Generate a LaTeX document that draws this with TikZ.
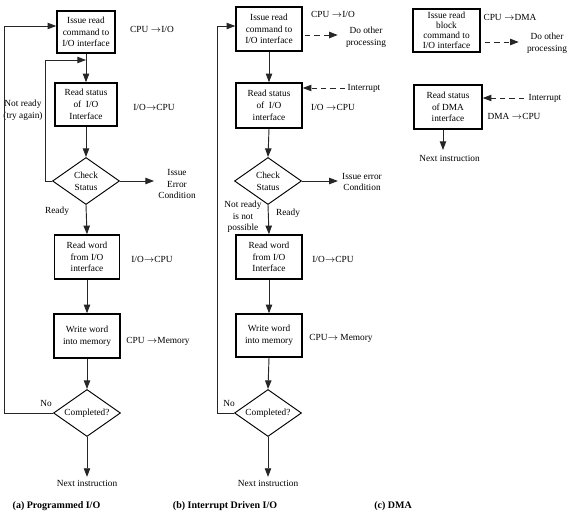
\documentclass[tikz,border=0pt]{standalone}
\usepackage{fontspec}
\setmainfont{Liberation Serif}
\usetikzlibrary{arrows.meta,shapes.geometric}
\begin{document}
\begin{tikzpicture}[x=0.75pt,y=-0.75pt,
  every node/.style={font=\fontsize{7}{8.8}\selectfont, inner sep=0pt},
  box/.style={draw, line width=1.1pt, align=center},
  dia/.style={draw, line width=0.7pt, shape=diamond, aspect=1.43, align=center, minimum width=50.25pt, minimum height=35.25pt},
  lbl/.style={align=center},
  captxt/.style={font=\bfseries\fontsize{7.5}{9}\selectfont},
  arr/.style={line width=0.7pt, draw=black!85, -{Triangle[length=6.5pt,width=4.8pt]}},
  darr/.style={line width=0.7pt, draw=black!85, dash pattern=on 4pt off 3pt, -{Triangle[length=6.5pt,width=4.8pt]}}]
\useasboundingbox (0,0) rectangle (569,514);

% ---------------- (a) Programmed I/O ----------------
\node[box, minimum width=43.5pt, minimum height=31.5pt] (a1) at (86,32) {Issue read\\command to\\I/O interface};
\node[box, minimum width=46.5pt, minimum height=32.25pt] (a2) at (86,104.5) {Read status\\of\enspace I/O\\Interface};
\node[dia] (a3) at (86,181) {Check\\Status};
\node[box, minimum width=48.75pt, minimum height=33pt] (a4) at (87,257) {Read word\\from I/O\\interface};
\node[box, minimum width=49.5pt, minimum height=33pt] (a5) at (87,336) {Write word\\into memory};
\node[dia] (a6) at (87,413) {Completed?};
\node (anext) at (87,483) {Next instruction};
\node[lbl] (aerr) at (177,184) {Issue\\Error\\Condition};
\node (al1) at (152,29) {CPU $\rightarrow$I/O};
\node (al2) at (154,107) {I/O$\rightarrow$CPU};
\node (al4) at (152,259) {I/O$\rightarrow$CPU};
\node (al5) at (158,341) {CPU $\rightarrow$Memory};
\node[lbl] (anr) at (23,110) {Not ready\\(try again)};
\node (ardy) at (57,211) {Ready};
\node (ano) at (46,403) {No};
\node[captxt] (acap) at (56.5,506) {(a) Programmed I/O};
\coordinate (la) at (4,26);
\coordinate (lb) at (45,60);

\draw[arr] (a1.south) -- (a2.north);
\draw[arr] (a2.south) -- (a3.north);
\draw[arr] (a3.south) -- (a4.north);
\draw[arr] (a4.south) -- (a5.north);
\draw[arr] (a5.south) -- (a6.north);
\draw[arr] (a6.south) -- ([yshift=2pt]anext.north);
\draw[arr] (a3.east) -- ([xshift=-3pt]a3.east -| aerr.west);
\draw[arr] (a3.west) -| (lb) -- (lb -| a1.south);
\draw[arr] (a6.west) -| (la) -- (la -| a1.west);

% ---------------- (b) Interrupt Driven I/O ----------------
\node[box, minimum width=49.5pt, minimum height=33pt] (b1) at (269,29) {Issue read\\command to\\I/O interface};
\node[box, minimum width=49.5pt, minimum height=33.75pt] (b2) at (269,105.5) {Read status\\of\enspace I/O\\interface};
\node[dia] (b3) at (268,181) {Check\\Status};
\node[box, minimum width=49.5pt, minimum height=33pt] (b4) at (269,257) {Read word\\from I/O\\Interface};
\node[box, minimum width=49.5pt, minimum height=32.25pt] (b5) at (269,335.5) {Write word\\into memory};
\node[dia] (b6) at (268,413) {Completed?};
\node (bnext) at (268,483) {Next instruction};
\node[lbl] (berr) at (362,182) {Issue error\\Condition};
\node[lbl] (bdo) at (366,37) {Do other\\processing};
\node (bint) at (364,88) {Interrupt};
\node (bl1) at (333,14) {CPU $\rightarrow$I/O};
\node (bl2) at (333,107) {I/O $\rightarrow$CPU};
\node (bl4) at (333,259) {I/O$\rightarrow$CPU};
\node (bl5) at (341,338) {CPU$\rightarrow$ Memory};
\node[lbl] (bnr) at (243,217) {Not ready\\is not\\possible};
\node (brdy) at (288,213) {Ready};
\node (bno) at (229,403) {No};
\node[captxt] (bcap) at (225,506) {(b) Interrupt Driven I/O};
\coordinate (lc) at (217,26);
\coordinate (bd) at (305,35);
\coordinate (bi) at (345,88);

\draw[arr] (b1.south) -- (b2.north);
\draw[arr] (b2.south) -- (b3.north);
\draw[arr] (b3.south) -- (b4.north);
\draw[arr] (b4.south) -- (b5.north);
\draw[arr] (b5.south) -- (b6.north);
\draw[arr] (b6.south) -- ([yshift=2pt]bnext.north);
\draw[arr] (b3.east) -- ([xshift=-3pt]b3.east -| berr.west);
\draw[darr] (bd) -- ([xshift=-6pt]bd -| bdo.west);
\draw[darr] (bi) -- (bi -| b2.east);
\draw[arr] (b6.west) -| (lc) -- (lc -| b1.west);

% ---------------- (c) DMA ----------------
\node[box, minimum width=50.25pt, minimum height=32.25pt, font=\fontsize{7}{7.4}\selectfont] (c1) at (446.5,30.5) {Issue read\\block\\command to\\I/O interface};
\node[box, minimum width=51pt, minimum height=33pt] (c2) at (448,107) {Read status\\of DMA\\interface};
\node (cnext) at (449.5,158) {Next instruction};
\node[lbl] (cdo) at (547,43) {Do other\\processing};
\node (cint) at (545,98) {Interrupt};
\node (cl1) at (510,17) {CPU $\rightarrow$DMA};
\node (cl2) at (514,116) {DMA $\rightarrow$CPU};
\node[captxt] (ccap) at (393,506) {(c) DMA};
\coordinate (cd) at (485,42);
\coordinate (ci) at (524,98);
\coordinate (cn) at (443,150);

\draw[darr] (cd) -- ([xshift=-6pt]cd -| cdo.west);
\draw[darr] (ci) -- (ci -| c2.east);
\draw[arr] (c2.south -| cn) -- (cn);
\end{tikzpicture}
\end{document}
